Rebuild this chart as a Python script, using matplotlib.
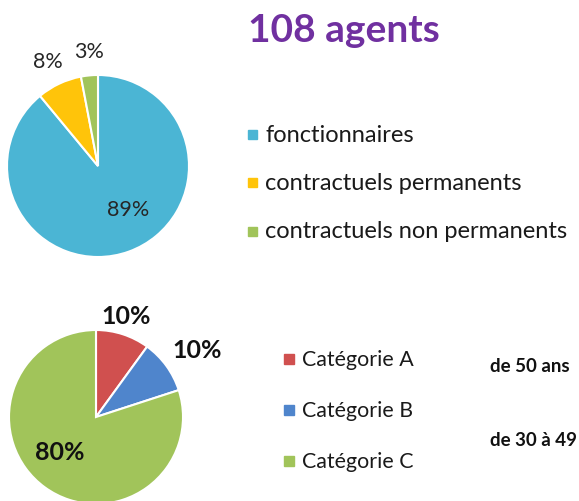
import matplotlib
matplotlib.use("Agg")
import matplotlib.pyplot as plt
from matplotlib.patches import Rectangle

# ---- data ----
title = "108 agents"
status_labels = ["fonctionnaires", "contractuels permanents", "contractuels non permanents"]
status_values = [89, 8, 3]
status_colors = ["#4BB5D4", "#FFC40A", "#A1C45A"]

cat_labels = ["Catégorie A", "Catégorie B", "Catégorie C"]
cat_values = [10, 10, 80]
cat_colors = ["#D0504F", "#4F85CC", "#A1C45A"]

side_texts = ["de 50 ans", "de 30 à 49"]

W, H = 579, 502
FONT = "Lato"

fig = plt.figure(figsize=(W / 100, H / 100), dpi=100)
ax = fig.add_axes([0, 0, 1, 1])


def Y(py):
    return H - py


# top pie
ax.pie(status_values, colors=status_colors, startangle=90, counterclock=False,
       center=(98, Y(167)), radius=91,
       wedgeprops=dict(edgecolor="white", linewidth=1.5))
# bottom pie
ax.pie(cat_values, colors=cat_colors, startangle=90, counterclock=False,
       center=(96, Y(418)), radius=87,
       wedgeprops=dict(edgecolor="white", linewidth=1.5))

ax.set_xlim(0, W)
ax.set_ylim(0, H)
ax.set_aspect("auto")
ax.axis("off")

# pie labels
top_lbl_pos = [(128, 210), (48, 62), (89, 52)]
for v, (px, py) in zip(status_values, top_lbl_pos):
    ax.text(px, Y(py), f"{v}%", ha="center", va="center", fontsize=15.5,
            color="#262626", family=FONT)
bot_lbl_pos = [(126, 317), (197, 350), (60, 453)]
for v, (px, py) in zip(cat_values, bot_lbl_pos):
    ax.text(px, Y(py), f"{v}%", ha="center", va="center", fontsize=18,
            fontweight="bold", color="#111111", family=FONT)

# title
ax.text(248, Y(31), title, ha="left", va="center", fontsize=28,
        fontweight="bold", color="#7030A0", family=FONT)

# top legend
for i, (lab, col) in enumerate(zip(status_labels, status_colors)):
    yc = 135 + i * 48.5
    ax.add_patch(Rectangle((248, Y(yc) - 4.5), 9, 9, color=col))
    ax.text(265, Y(yc), lab, ha="left", va="center", fontsize=17,
            color="#1a1a1a", family=FONT)

# bottom legend
for i, (lab, col) in enumerate(zip(cat_labels, cat_colors)):
    yc = 360 + i * 51
    ax.add_patch(Rectangle((284, Y(yc) - 4.5), 10, 10, color=col))
    ax.text(302, Y(yc), lab, ha="left", va="center", fontsize=15.4,
            color="#1a1a1a", family=FONT)

# side texts
for t, py in zip(side_texts, [367, 441]):
    ax.text(490, Y(py), t, ha="left", va="center", fontsize=13.5,
            fontweight="bold", color="#111111", family=FONT)

fig.savefig("out.png", dpi=100, facecolor="white")
